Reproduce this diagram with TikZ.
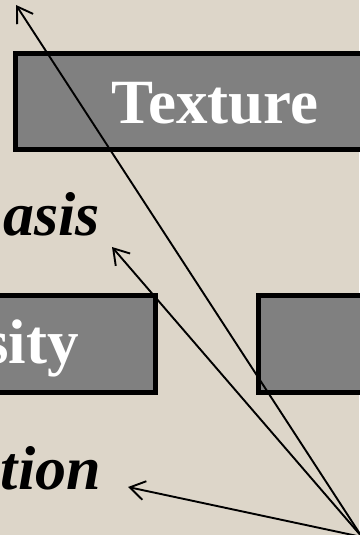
\documentclass[tikz,border=0pt]{standalone}
\usepackage{fontspec}
\setmainfont{Liberation Serif}
\usetikzlibrary{arrows.meta}
\definecolor{bg}{RGB}{221,214,201}
\definecolor{boxgray}{RGB}{128,128,128}
\begin{document}
\begin{tikzpicture}[x=1pt,y=-1pt,
  box/.style={draw=black, fill=boxgray, line width=5pt, inner sep=0pt},
  wlabel/.style={font=\fontsize{63}{63}\selectfont\bfseries, text=white, inner sep=0pt},
  blabel/.style={font=\fontsize{62}{62}\selectfont\bfseries\itshape, text=black, inner sep=0pt},
  pointer/.style={line width=1.9pt, -{Straight Barb[length=15pt,width=19pt]}}
]
\fill[bg] (0,0) rectangle (359,535);
\useasboundingbox (0,0) rectangle (359,535);
% boxes
\node[box, minimum width=399pt, minimum height=96pt] (texturebox) at (215,101.5) {};
\node[box, minimum width=257.5pt, minimum height=97pt, anchor=north east] (densitybox) at (157.5,292.5) {};
\node[box, minimum width=250pt, minimum height=97pt, anchor=north west] (rightbox) at (255.5,292.5) {};
% labels
\node[wlabel, anchor=base] (texturelbl) at (215,123) {Texture};
\node[blabel, anchor=base east] (asislbl) at (100,235) {asis};
\node[wlabel, anchor=base east] (sitylbl) at (79,363) {sity};
\node[blabel, anchor=base east] (tionlbl) at (101,489) {tion};
% arrows
\coordinate (src) at (362,537);
\coordinate (tipA) at (16,5);
\coordinate (tipB) at (112,247);
\coordinate (tipC) at (128,487);
\draw[pointer] (src) -- (tipA);
\draw[pointer] (src) -- (tipB);
\draw[pointer] (src) -- (tipC);
\end{tikzpicture}
\end{document}
